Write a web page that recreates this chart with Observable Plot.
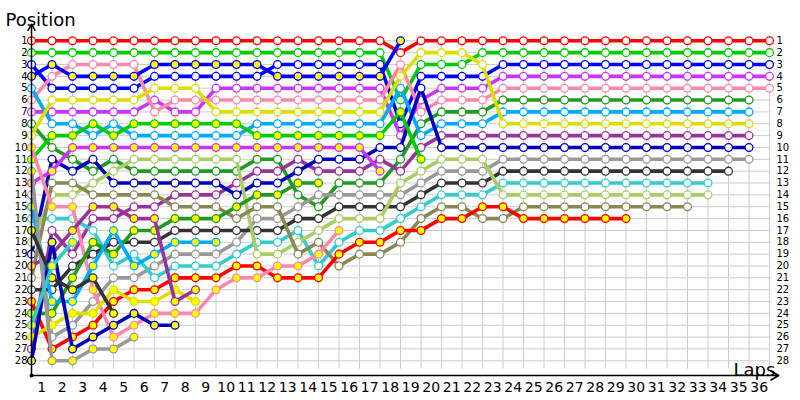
<!DOCTYPE html>
<html><head><meta charset="utf-8">
<script src="https://cdn.jsdelivr.net/npm/d3@7"></script>
<script src="https://cdn.jsdelivr.net/npm/@observablehq/plot@0.6"></script>
<style>body{margin:0;background:#fff;} svg{display:block;}</style>
</head><body><div id="chart"></div>
<script>
// Tick labels
const lapLabels = [1,2,3,4,5,6,7,8,9,10,11,12,13,14,15,16,17,18,19,20,21,22,23,24,25,26,27,28,29,30,31,32,33,34,35,36];
const posLabels = [1,2,3,4,5,6,7,8,9,10,11,12,13,14,15,16,17,18,19,20,21,22,23,24,25,26,27,28];
const gridLaps = [0,1,2,3,4,5,6,7,8,9,10,11,12,13,14,15,16,17,18,19,20,21,22,23,24,25,26,27,28,29,30,31,32,33,34,35,36];

// Position on each lap (index 0 = starting grid), one array per driver in classification order
const p01 = [1,1,1,1,1,1,1,1,1,1, 1,1,1,1,1,1,1,1,2,1, 1,1,1,1,1,1,1,1,1,1, 1,1,1,1,1,1,1];
const p02 = [2,2,2,2,2,2,2,2,2,2, 2,2,2,2,2,2,2,2,6,3, 3,3,2,2,2,2,2,2,2,2, 2,2,2,2,2,2,2];
const p03 = [3,5,5,5,5,5,4,4,4,4, 4,4,3,3,3,3,3,3,8,4, 4,4,4,3,3,3,3,3,3,3, 3,3,3,3,3,3,3];
const p04 = [7,7,7,7,7,7,6,7,7,5, 5,5,5,5,5,5,5,5,9,6, 5,5,5,4,4,4,4,4,4,4, 4,4,4,4,4,4,4];
const p05 = [6,4,3,3,3,3,7,6,6,6, 6,6,6,6,6,6,6,6,3,7, 6,6,6,5,5,5,5,5,5,5, 5,5,5,5,5,5,5];
const p06 = [8,10,11,12,11,12,12,12,12,12, 12,11,11,14,15,13,13,13,11,8, 7,7,7,6,6,6,6,6,6,6, 6,6,6,6,6,6];
const p07 = [5,8,8,9,8,9,9,9,9,9, 9,8,8,8,8,8,8,8,5,9, 8,8,8,7,7,7,7,7,7,7, 7,7,7,7,7,7];
const p08 = [9,6,6,6,6,6,5,5,5,7, 7,7,7,7,7,7,7,7,4,2, 2,2,3,8,8,8,8,8,8,8, 8,8,8,8,8,8];
const p09 = [27,17,19,16,16,15,15,14,14,14, 13,12,12,11,12,12,12,11,12,10, 9,9,9,9,9,9,9,9,9,9, 9,9,9,9,9,9];
const p10 = [19,11,12,11,13,13,13,13,13,13, 14,13,13,12,11,11,11,10,10,5, 10,10,10,10,10,10,10,10,10,10, 10,10,10,10,10,10];
const p11 = [14,26,25,23,21,21,20,19,19,19, 18,16,16,15,14,14,14,14,14,13, 12,12,12,11,11,11,11,11,11,11, 11,11,11,11,11,11];
const p12 = [22,22,20,19,18,18,18,17,17,17, 17,17,17,16,16,15,15,15,15,14, 13,13,13,12,12,12,12,12,12,12, 12,12,12,12,12];
const p13 = [16,16,16,17,20,19,21,20,20,20, 19,18,18,17,20,18,17,17,16,15, 14,14,14,13,13,13,13,13,13,13, 13,13,13,13];
const p14 = [18,14,14,13,12,11,11,11,11,11, 11,19,19,18,17,16,16,16,13,12, 11,11,11,14,14,14,14,14,14,14, 14,14,14,14];
const p15 = [21,13,13,14,14,14,14,15,15,15, 16,15,15,19,18,20,19,19,18,16, 15,15,16,16,15,15,15,15,15,15, 15,15,15];
const p16 = [23,27,26,25,23,22,22,21,21,21, 20,20,21,21,21,19,18,18,17,17, 16,16,15,15,16,16,16,16,16,16];
const p17 = [11,9,9,8,9,8,8,8,8,8, 8,9,9,9,9,9,9,9,7,11];
const p18 = [4,3,4,4,4,4,3,3,3,3, 3,3,4,4,4,4,4,4,1];
const p19 = [13,12,10,10,10,10,10,10,10,10, 10,10,10,10,10,10,10,12];
const p20 = [10,15,15,22,26,25,24,24,24,22, 21,21,20,20,19,17];
const p21 = [24,24,21,18,19,17,17,16,16,16, 15,14,14,13,13];
const p22 = [15,23,23,20,17,20,19,18,18,18];
const p23 = [26,25,24,24,22,23,23,22,23];
const p24 = [20,19,17,15,15,16,16,23,22];
const p25 = [28,18,27,26,25,24,25,25];
const p26 = [12,28,28,27,27,26];
const p27 = [17,21,22,21,24];
const p28 = [25,20,18];

const drivers = [p01,p02,p03,p04,p05,p06,p07,p08,p09,p10,p11,p12,p13,p14,p15,
                 p16,p17,p18,p19,p20,p21,p22,p23,p24,p25,p26,p27,p28];

// Styles
const palette = ["#ff0000","#00cc00","#0000ff","#cc33ff","#ff88aa","#229922","#00aaff",
                 "#dddd00","#993399","#0000bb","#999999","#333333","#33cccc","#aacc66","#888855"];
const grid = "#cccccc";

const marks = [];
marks.push(Plot.gridY(posLabels, {stroke: grid, strokeOpacity: 1}));
marks.push(Plot.ruleX(gridLaps, {x: d => d, y1: () => 1, y2: () => 28.7, stroke: grid, strokeOpacity: 1}));

drivers.forEach((arr, i) => {
  const color = palette[i % palette.length];
  const fill = i < palette.length ? "#ffffff" : "#ffff00";
  const data = arr.map((p, lap) => ({lap, p}));
  marks.push(Plot.line(data, {x: "lap", y: "p", stroke: color, strokeWidth: 3.6}));
  marks.push(Plot.dot(data, {x: "lap", y: "p", r: 3.9, fill, stroke: color, strokeWidth: 1.3}));
});

// Axes
marks.push(Plot.axisY(posLabels, {anchor: "left", tickSize: 0, tickPadding: 4, fontSize: 10, label: null}));
marks.push(Plot.axisY(posLabels, {anchor: "right", tickSize: 0, tickPadding: 7, fontSize: 10, label: null}));
marks.push(Plot.axisX(lapLabels.map(d => d - 0.5), {anchor: "bottom", tickSize: 0, tickPadding: 21, fontSize: 14, label: null, tickFormat: d => d + 0.5}));
marks.push(Plot.arrow([0], {x1: () => 0, y1: () => 29.24, x2: () => 36.45, y2: () => 29.24, stroke: "#000", strokeWidth: 1.5, headLength: 9}));
marks.push(Plot.arrow([0], {x1: () => 0, y1: () => 29.24, x2: () => 0, y2: () => -0.4, stroke: "#000", strokeWidth: 1.5, headLength: 7}));
marks.push(Plot.dot([0], {x: () => 0, y: () => 29.24, r: 2, fill: "#000"}));
marks.push(Plot.text(["Position"], {frameAnchor: "top-left", text: d => d, dx: -26, dy: -15, textAnchor: "start", lineAnchor: "bottom", fontSize: 18, fill: "#000"}));
marks.push(Plot.text(["Laps"], {frameAnchor: "bottom-right", text: d => d, dx: -36, dy: 15, textAnchor: "start", lineAnchor: "bottom", fontSize: 18, fill: "#000"}));

const chart = Plot.plot({
  width: 800,
  height: 400,
  marginLeft: 31,
  marginRight: 31,
  marginTop: 40.3,
  marginBottom: 39.7,
  x: {domain: [0, 36]},
  y: {domain: [1, 28], reverse: true},
  style: {fontFamily: "DejaVu Sans", fontSize: "14px", background: "#ffffff", color: "#000", overflow: "visible"},
  marks
});
document.getElementById("chart").appendChild(chart);
</script>
</body></html>
